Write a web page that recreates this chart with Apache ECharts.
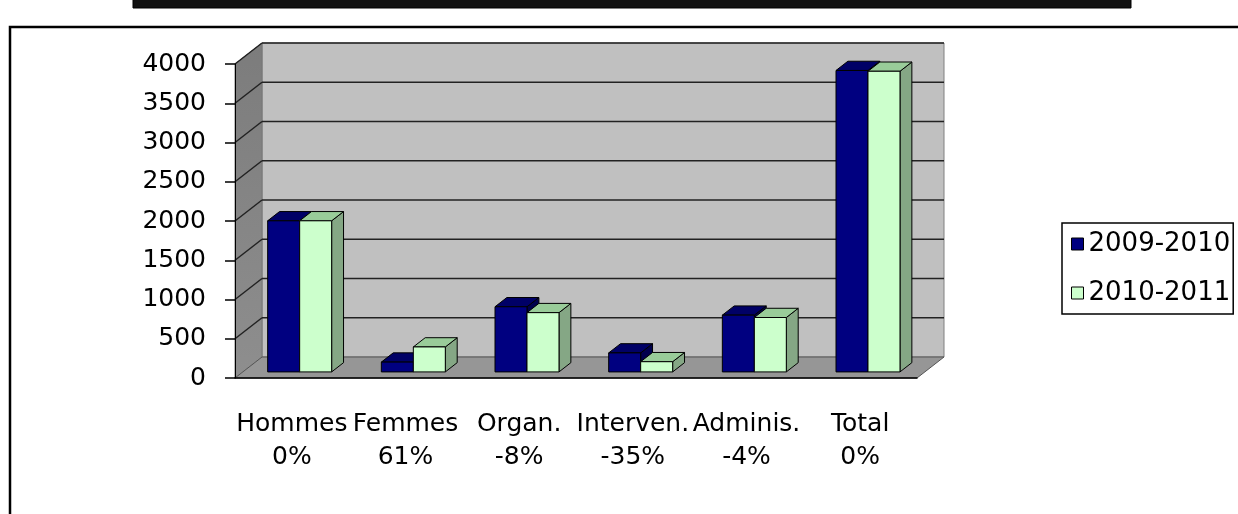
<!DOCTYPE html>
<html>
<head>
<meta charset="utf-8">
<script src="https://cdn.jsdelivr.net/npm/echarts@6/dist/echarts.min.js"></script>
<style>
  html, body { margin: 0; padding: 0; background: #fff; }
  #chart { width: 1238px; height: 514px; }
</style>
</head>
<body>
<div id="chart"></div>
<script>
var categories = ['Hommes', 'Femmes', 'Organ.', 'Interven.', 'Adminis.', 'Total'];
var changes = ['0%', '61%', '-8%', '-35%', '-4%', '0%'];
var values2009 = [1925, 125, 830, 242, 723, 3840];
var values2010 = [1925, 318, 755, 130, 693, 3830];
var yTicks = [0, 500, 1000, 1500, 2000, 2500, 3000, 3500, 4000];

// depth of the 3d box (px)
var DX = 27, DY = -21;
var BAR_SHARE = 32 / 113.7;

var myChart = echarts.init(document.getElementById('chart'));

function renderWalls(params, api) {
    var band = api.size([1, 0])[0];
    var p0 = api.coord([0, 0]);
    var left = p0[0] - band / 2;
    var right = api.coord([categories.length - 1, 0])[0] + band / 2;
    var yBase = p0[1];
    var yTop = api.coord([0, yTicks[yTicks.length - 1]])[1];
    var kids = [];
    // back wall
    kids.push({
        type: 'polygon',
        shape: {points: [[left + DX, yTop + DY], [right + DX, yTop + DY], [right + DX, yBase + DY], [left + DX, yBase + DY]]},
        style: {fill: '#c0c0c0', stroke: '#808080', lineWidth: 1}
    });
    // left wall
    kids.push({
        type: 'polygon',
        shape: {points: [[left, yTop], [left + DX, yTop + DY], [left + DX, yBase + DY], [left, yBase]]},
        style: {
            fill: new echarts.graphic.LinearGradient(0, 0, 0, 1, [
                {offset: 0, color: '#7c7c7c'}, {offset: 1, color: '#8e8e8e'}
            ]),
            stroke: '#777', lineWidth: 1
        }
    });
    // floor
    kids.push({
        type: 'polygon',
        shape: {points: [[left, yBase], [left + DX, yBase + DY], [right + DX, yBase + DY], [right, yBase]]},
        style: {fill: '#969696', stroke: '#555', lineWidth: 1}
    });
    yTicks.forEach(function (v) {
        if (v === 0) return;
        var y = api.coord([0, v])[1];
        kids.push({type: 'line', shape: {x1: left, y1: y, x2: left + DX, y2: y + DY},
            style: {stroke: '#222', lineWidth: 1.5}});
        kids.push({type: 'line', shape: {x1: left + DX, y1: y + DY, x2: right + DX, y2: y + DY},
            style: {stroke: '#222', lineWidth: 1.5}});
    });
    return {type: 'group', children: kids};
}

function barRenderer(side, front, topC, sideC) {
    return function (params, api) {
        var cat = api.value(0);
        var top = api.coord([cat, api.value(1)]);
        var base = api.coord([cat, 0]);
        var band = api.size([1, 0])[0];
        var w = band * BAR_SHARE;
        var fx = DX * 0.29, fy = DY * 0.29;
        var bx = DX * 0.44, by = DY * 0.44;
        var x0 = base[0] + fx + (side < 0 ? -w : 0);
        var x1 = x0 + w;
        var y0 = top[1] + fy, y1 = base[1] + fy;
        var edge = {stroke: '#000', lineWidth: 1, lineJoin: 'round'};
        return {
            type: 'group',
            children: [
                {type: 'polygon', shape: {points: [[x1, y0], [x1 + bx, y0 + by], [x1 + bx, y1 + by], [x1, y1]]},
                    style: Object.assign({fill: sideC}, edge)},
                {type: 'polygon', shape: {points: [[x0, y0], [x1, y0], [x1 + bx, y0 + by], [x0 + bx, y0 + by]]},
                    style: Object.assign({fill: topC}, edge)},
                {type: 'rect', shape: {x: x0, y: y0, width: w, height: y1 - y0},
                    style: Object.assign({fill: front}, edge)}
            ]
        };
    };
}

var option = {
    animation: false,
    textStyle: {fontFamily: 'DejaVu Sans'},
    graphic: [
        {type: 'rect', shape: {x: 133, y: -4, width: 998, height: 12},
            style: {fill: '#111', stroke: '#000', lineWidth: 1}},
        {type: 'rect', shape: {x: 10, y: 27, width: 1400, height: 700},
            style: {fill: 'none', stroke: '#000', lineWidth: 2.5}, z: -10}
    ],
    legend: {
        data: ['2009-2010', '2010-2011'],
        orient: 'vertical',
        left: 1062,
        top: 223,
        padding: [8, 3, 8, 9],
        itemGap: 23,
        itemWidth: 12,
        itemHeight: 12,
        icon: 'rect',
        borderColor: '#000',
        borderWidth: 1.5,
        borderRadius: 0,
        itemStyle: {borderColor: '#000', borderWidth: 1},
        textStyle: {fontSize: 26, color: '#000', fontFamily: 'DejaVu Sans'}
    },
    grid: {left: 235, top: 64, width: 682, height: 314},
    xAxis: {
        type: 'category',
        data: categories,
        z: 10,
        axisLine: {lineStyle: {color: '#000', width: 1.5}},
        axisTick: {length: 9, lineStyle: {color: '#000', width: 1.5}},
        axisLabel: {
            interval: 0,
            margin: 30,
            fontSize: 25,
            lineHeight: 33,
            color: '#000',
            formatter: function (v, i) { return v + '\n' + changes[i]; }
        }
    },
    yAxis: {
        type: 'value',
        min: 0,
        max: 4000,
        interval: 500,
        z: 10,
        splitLine: {show: false},
        axisLine: {show: true, lineStyle: {color: '#000', width: 1}},
        axisTick: {show: true, length: 10, lineStyle: {color: '#000', width: 1.5}},
        axisLabel: {
            margin: 29,
            fontSize: 25,
            color: '#000',
            formatter: function (v) { return String(v); }
        }
    },
    series: [
        {
            name: 'walls',
            type: 'custom',
            z: 1,
            silent: true,
            renderItem: renderWalls,
            data: [[0, 0]]
        },
        {
            name: '2009-2010',
            type: 'custom',
            z: 3,
            itemStyle: {color: '#000080'},
            renderItem: barRenderer(-1, '#000080', '#000066', '#00004d'),
            data: values2009.map(function (v, i) { return [i, v]; })
        },
        {
            name: '2010-2011',
            type: 'custom',
            z: 4,
            itemStyle: {color: '#ccffcc'},
            renderItem: barRenderer(1, '#ccffcc', '#99cc99', '#85a785'),
            data: values2010.map(function (v, i) { return [i, v]; })
        }
    ]
};
myChart.setOption(option);
</script>
</body>
</html>
